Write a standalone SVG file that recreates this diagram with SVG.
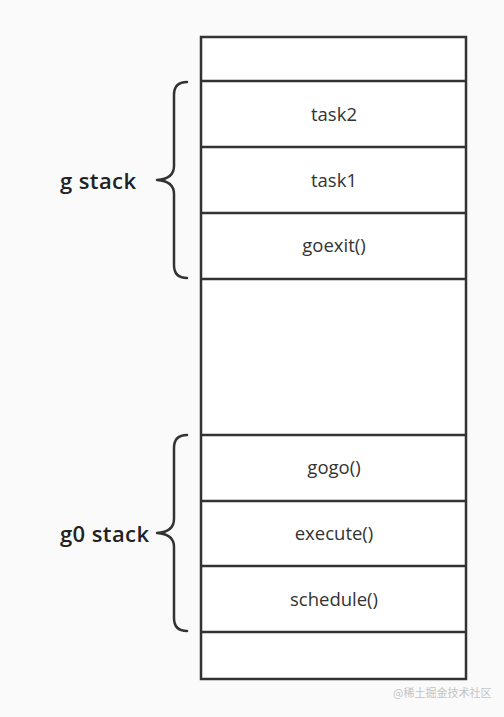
<svg xmlns="http://www.w3.org/2000/svg" width="504" height="717" viewBox="0 0 504 717">
<style>
.cell{fill:#fff;stroke:#333;stroke-width:2.5}
.sep{stroke:#333;stroke-width:2.5}
.t{font-family:"Open Sans","Liberation Sans",sans-serif;font-size:18.5px;fill:#333;text-anchor:middle}
.lbl{font-family:"Open Sans","Liberation Sans",sans-serif;font-size:22px;fill:#222;font-weight:600;letter-spacing:0.4px}
.brace{fill:none;stroke:#333;stroke-width:2.5;stroke-linecap:round;stroke-linejoin:round}
.wm{font-family:"Noto Sans CJK SC",sans-serif;font-size:11px;fill:#c4c4c4}
</style>
<rect width="504" height="717" fill="#fafafa"/>
<g id="stack">
<rect class="cell" x="201" y="37" width="265" height="642"/>
<line class="sep" x1="201" y1="81" x2="466" y2="81"/>
<line class="sep" x1="201" y1="147" x2="466" y2="147"/>
<line class="sep" x1="201" y1="213" x2="466" y2="213"/>
<line class="sep" x1="201" y1="279" x2="466" y2="279"/>
<line class="sep" x1="201" y1="435" x2="466" y2="435"/>
<line class="sep" x1="201" y1="501" x2="466" y2="501"/>
<line class="sep" x1="201" y1="566" x2="466" y2="566"/>
<line class="sep" x1="201" y1="632" x2="466" y2="632"/>
</g>
<g id="task2"><text class="t" x="334" y="121">task2</text></g>
<g id="task1"><text class="t" x="334" y="187">task1</text></g>
<g id="goexit"><text class="t" x="334" y="252">goexit()</text></g>
<g id="gogo"><text class="t" x="334" y="474">gogo()</text></g>
<g id="execute"><text class="t" x="334" y="540">execute()</text></g>
<g id="schedule"><text class="t" x="334" y="606">schedule()</text></g>
<g id="g-stack">
<path class="brace" d="M187 82 Q174 82 174 95 L174 166 Q174 179 157 180 Q174 181 174 194 L174 265 Q174 278 187 278"/>
<text class="lbl" x="60" y="189">g stack</text>
</g>
<g id="g0-stack">
<path class="brace" d="M187 435 Q174 435 174 448 L174 519 Q174 532 157 533 Q174 534 174 547 L174 618 Q174 631 187 631"/>
<text class="lbl" x="60" y="542">g0 stack</text>
</g>
<text class="wm" x="393" y="697">@稀土掘金技术社区</text>
</svg>
